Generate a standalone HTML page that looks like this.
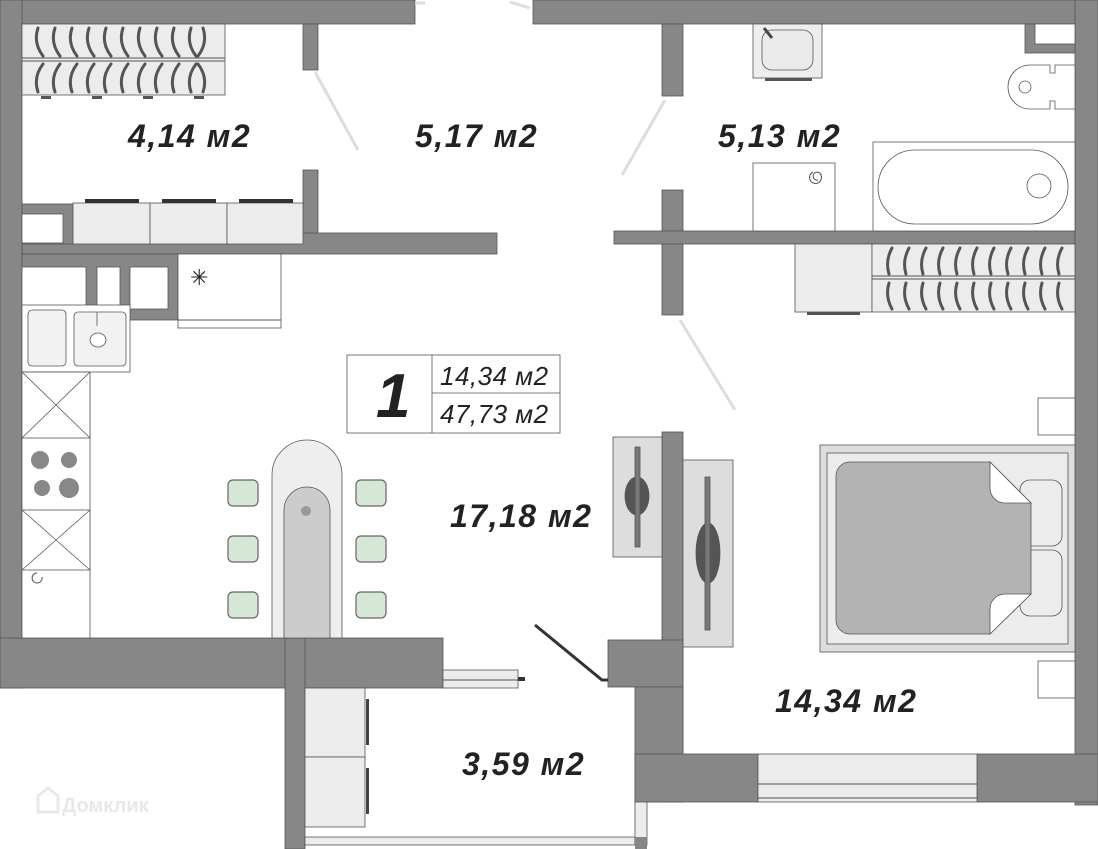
<!DOCTYPE html>
<html><head><meta charset="utf-8"><style>
html,body{margin:0;padding:0;background:#fff}
svg{display:block}
text{font-family:"Liberation Sans",sans-serif;font-weight:bold;font-style:italic;fill:#222}
</style></head><body>
<svg width="1098" height="849" viewBox="0 0 1098 849" xmlns="http://www.w3.org/2000/svg">
<g fill="#878787" stroke="#555" stroke-width="0.8">
<rect x="0" y="0" width="415" height="24"/>
<rect x="533" y="0" width="565" height="24"/>
<rect x="0" y="0" width="22" height="688"/>
<rect x="0" y="638" width="443" height="50"/>
<rect x="285" y="638" width="20" height="211"/>
<rect x="303" y="24" width="15" height="46"/>
<rect x="303" y="170" width="15" height="76"/>
<rect x="22" y="233" width="475" height="21"/>
<rect x="22" y="204" width="51" height="40"/>
<rect x="22" y="254" width="156" height="66"/>
<rect x="662" y="24" width="21" height="72"/>
<rect x="662" y="190" width="21" height="125"/>
<rect x="614" y="231" width="461" height="13"/>
<rect x="1075" y="0" width="23" height="805"/>
<rect x="1025" y="24" width="50" height="29"/>
<rect x="662" y="432" width="21" height="370"/>
<rect x="608" y="640" width="75" height="47"/>
<rect x="635" y="687" width="48" height="115"/>
<rect x="635" y="754" width="123" height="48"/>
<rect x="977" y="754" width="121" height="48"/>
</g>
<g fill="#fff" stroke="#555" stroke-width="0.8">
<rect x="22" y="214" width="41" height="29"/>
<rect x="22" y="267" width="64" height="42"/>
<rect x="97" y="267" width="23" height="42"/>
<rect x="130" y="267" width="38" height="42"/>
<rect x="1035" y="24" width="40" height="20"/>
</g>
<g fill="#ececec" stroke="#555" stroke-width="0.8">
<rect x="73" y="203" width="77" height="41"/><rect x="150" y="203" width="77" height="41"/><rect x="227" y="203" width="76" height="41"/>
</g>
<g fill="#333"><rect x="85" y="199" width="54" height="4"/><rect x="162" y="199" width="54" height="4"/><rect x="239" y="199" width="54" height="4"/></g>
<rect x="22" y="24" width="203" height="71" fill="#ececec" stroke="#555" stroke-width="0.8"/>
<line x1="22" y1="58" x2="225" y2="58" stroke="#555"/><line x1="22" y1="61" x2="225" y2="61" stroke="#555"/>
<g stroke="#555" stroke-width="3" fill="none" stroke-linecap="round">
<path d="M38 28q-5 15 5 28M38 92q-5 -15 5 -28M55 28q-5 15 5 28M55 92q-5 -15 5 -28M72 28q-5 15 5 28M72 92q-5 -15 5 -28M89 28q-5 15 5 28M89 92q-5 -15 5 -28M106 28q-5 15 5 28M106 92q-5 -15 5 -28M123 28q-5 15 5 28M123 92q-5 -15 5 -28M140 28q-5 15 5 28M140 92q-5 -15 5 -28M157 28q-5 15 5 28M157 92q-5 -15 5 -28M174 28q-5 15 5 28M174 92q-5 -15 5 -28M191 28q-5 15 5 28M191 92q-5 -15 5 -28M203 28q5 15 -5 28M203 92q5 -15 -5 -28"/>
</g>
<g fill="#555"><rect x="41" y="96" width="10" height="3"/><rect x="92" y="96" width="10" height="3"/><rect x="143" y="96" width="10" height="3"/><rect x="194" y="96" width="10" height="3"/></g>
<g stroke="#ddd" stroke-width="3" fill="none">
<path d="M315 72 L358 150"/><path d="M665 100 L622 175"/><path d="M680 320 L735 410"/>
<path d="M415 3 L425 3"/><path d="M510 2 L530 8"/>
</g>
<rect x="178" y="254" width="103" height="74" fill="#fff" stroke="#555" stroke-width="0.8"/>
<line x1="178" y1="320" x2="281" y2="320" stroke="#555"/>
<text x="190" y="285" style="font-style:normal;font-weight:normal;font-size:22px">✳</text>
<g fill="#fff" stroke="#555" stroke-width="0.8">
<rect x="22" y="305" width="108" height="67"/>
<rect x="28" y="310" width="38" height="56" rx="4" fill="#f2f2f2"/>
<rect x="74" y="312" width="52" height="54" rx="4" fill="#f2f2f2"/>
<ellipse cx="98" cy="340" rx="8" ry="7"/>
<rect x="22" y="372" width="68" height="266"/>
<rect x="22" y="372" width="68" height="66"/>
<rect x="22" y="510" width="68" height="60"/>
</g>
<g stroke="#555" stroke-width="0.8"><path d="M22 372L90 438M90 372L22 438M22 510L90 570M90 510L22 570"/><path d="M97 312v14"/></g>
<g fill="#888"><circle cx="40" cy="460" r="9"/><circle cx="69" cy="460" r="8"/><circle cx="42" cy="488" r="8"/><circle cx="69" cy="488" r="10"/></g>
<path d="M42 577a5 5 0 1 1 -5 -4" stroke="#555" fill="none"/>
<path d="M272 638V475a35 35 0 0 1 70 0V638Z" fill="#eee" stroke="#555" stroke-width="0.8"/>
<path d="M284 638V510a23 23 0 0 1 46 0V638Z" fill="#ccc" stroke="#555" stroke-width="0.8"/>
<circle cx="306" cy="511" r="5" fill="#999"/>
<g fill="#d5e8d5" stroke="#666" stroke-width="1.2">
<rect x="228" y="480" width="30" height="26" rx="5"/><rect x="228" y="536" width="30" height="26" rx="5"/><rect x="228" y="592" width="30" height="26" rx="5"/>
<rect x="356" y="480" width="30" height="26" rx="5"/><rect x="356" y="536" width="30" height="26" rx="5"/><rect x="356" y="592" width="30" height="26" rx="5"/>
</g>
<g fill="#fff" stroke="#555" stroke-width="0.8">
<rect x="753" y="24" width="69" height="54" fill="#eee"/>
<rect x="762" y="30" width="51" height="40" rx="10" fill="#eaeaea"/>
<rect x="753" y="163" width="82" height="68"/>
<rect x="873" y="142" width="202" height="89"/>
<rect x="878" y="150" width="190" height="74" rx="37"/>
<circle cx="1039" cy="186" r="12"/>
<path d="M1075 65h-20v8h-5v-8h-20a22 22 0 0 0 0 44h20v-8h5v8h20Z"/>
<circle cx="1025" cy="87" r="6"/>
</g>
<path d="M764 28l8 10" stroke="#444" stroke-width="3"/>
<rect x="765" y="78" width="47" height="3" fill="#555"/>
<path d="M818 180a4 4 0 1 1 3 -5a6 6 0 1 1 -8 -3" stroke="#555" fill="none"/>
<rect x="795" y="244" width="77" height="68" fill="#ececec" stroke="#555" stroke-width="0.8"/>
<rect x="807" y="312" width="53" height="3" fill="#555"/>
<rect x="872" y="244" width="203" height="68" fill="#ececec" stroke="#555" stroke-width="0.8"/>
<line x1="872" y1="276" x2="1075" y2="276" stroke="#555"/><line x1="872" y1="279" x2="1075" y2="279" stroke="#555"/>
<g stroke="#555" stroke-width="3" fill="none" stroke-linecap="round">
<path d="M892 248q-7 13 -3 26M892 309q-7 -13 -3 -26M909 248q-7 13 -3 26M909 309q-7 -13 -3 -26M926 248q-7 13 -3 26M926 309q-7 -13 -3 -26M943 248q-7 13 -3 26M943 309q-7 -13 -3 -26M960 248q-7 13 -3 26M960 309q-7 -13 -3 -26M977 248q-7 13 -3 26M977 309q-7 -13 -3 -26M994 248q-7 13 -3 26M994 309q-7 -13 -3 -26M1011 248q-7 13 -3 26M1011 309q-7 -13 -3 -26M1028 248q-7 13 -3 26M1028 309q-7 -13 -3 -26M1045 248q-7 13 -3 26M1045 309q-7 -13 -3 -26M1062 248q-7 13 -3 26M1062 309q-7 -13 -3 -26"/>
</g>
<g fill="#fff" stroke="#555" stroke-width="0.8">
<rect x="1038" y="398" width="37" height="37"/><rect x="1038" y="661" width="37" height="37"/>
</g>
<rect x="820" y="445" width="255" height="207" fill="#ddd" stroke="#555" stroke-width="0.8"/>
<rect x="827" y="453" width="241" height="191" fill="#ececec" stroke="#555" stroke-width="0.8"/>
<rect x="1020" y="480" width="42" height="66" rx="10" fill="#ececec" stroke="#555" stroke-width="0.8"/>
<rect x="1020" y="550" width="42" height="66" rx="10" fill="#ececec" stroke="#555" stroke-width="0.8"/>
<path d="M850 462H990L1031 503V594L990 634H850a14 14 0 0 1 -14 -14V476a14 14 0 0 1 14 -14Z" fill="#b3b3b3" stroke="#555" stroke-width="0.8"/>
<path d="M990 462L1031 503H1005a15 15 0 0 1 -15 -15Z M990 634L1031 594H1005a15 15 0 0 0 -15 15Z" fill="#fff" stroke="#555" stroke-width="0.8"/>
<g stroke="#555" stroke-width="0.8">
<rect x="613" y="437" width="49" height="120" fill="#ddd"/>
<rect x="683" y="460" width="50" height="187" fill="#ddd"/>
<ellipse cx="637" cy="496" rx="12" ry="19" fill="#555"/>
<rect x="635" y="447" width="5" height="100" fill="#777"/>
<ellipse cx="708" cy="553" rx="12" ry="30" fill="#555"/>
<rect x="705" y="477" width="5" height="153" fill="#777"/>
</g>
<rect x="758" y="754" width="219" height="48" fill="#ececec" stroke="#555" stroke-width="0.8"/>
<line x1="758" y1="784" x2="977" y2="784" stroke="#555"/><line x1="758" y1="798" x2="977" y2="798" stroke="#555"/>
<rect x="443" y="670" width="75" height="18" fill="#ececec" stroke="#555" stroke-width="0.8"/>
<line x1="443" y1="680" x2="518" y2="680" stroke="#555"/>
<rect x="518" y="677" width="7" height="4" fill="#333"/>
<path d="M535 625L602 680H608" stroke="#333" stroke-width="3" fill="none"/>
<rect x="305" y="688" width="60" height="69" fill="#ececec" stroke="#555" stroke-width="0.8"/>
<rect x="305" y="757" width="60" height="70" fill="#ececec" stroke="#555" stroke-width="0.8"/>
<rect x="366" y="699" width="3" height="46" fill="#444"/><rect x="366" y="768" width="3" height="46" fill="#444"/>
<rect x="305" y="837" width="330" height="8" fill="#ececec" stroke="#555" stroke-width="0.8"/>
<rect x="635" y="802" width="12" height="43" fill="#ececec" stroke="#555" stroke-width="0.8"/>
<rect x="635" y="837" width="12" height="12" fill="#878787"/>
<g fill="#fff" stroke="#555" stroke-width="0.8">
<rect x="347" y="355" width="213" height="78"/>
<line x1="432" y1="355" x2="432" y2="433"/><line x1="432" y1="393" x2="560" y2="393"/>
</g>
<text x="376" y="417" font-size="62">1</text>
<text x="440" y="385" font-size="26" letter-spacing="0.5" style="font-weight:normal">14,34 м2</text>
<text x="440" y="423" font-size="26" letter-spacing="0.5" style="font-weight:normal">47,73 м2</text>
<g font-size="32" letter-spacing="1.5">
<text x="128" y="147">4,14 м2</text>
<text x="415" y="147">5,17 м2</text>
<text x="718" y="147">5,13 м2</text>
<text x="450" y="527">17,18 м2</text>
<text x="775" y="712">14,34 м2</text>
<text x="462" y="775">3,59 м2</text>
</g>
<text x="62" y="812" font-size="20" style="fill:#e8e8e8;font-style:normal">Домклик</text>
<path d="M38 812v-16l10 -8l10 8v16z" fill="none" stroke="#e8e8e8" stroke-width="3"/>
</svg>
</body></html>
